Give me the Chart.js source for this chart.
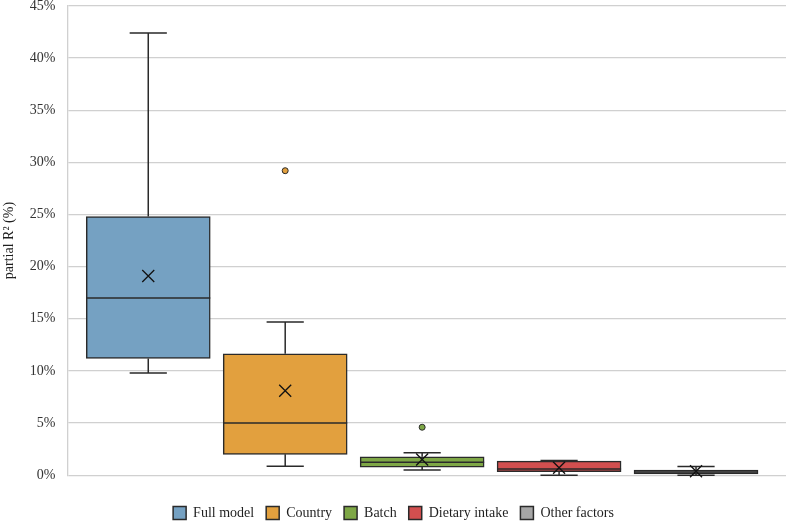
<!DOCTYPE html>
<html>
<head>
<meta charset="utf-8">
<script src="https://cdn.jsdelivr.net/npm/chart.js@4/dist/chart.umd.min.js"></script>
<style>
  html, body { margin: 0; padding: 0; background: #fff; }
  #wrap { width: 789px; height: 523px; }
</style>
</head>
<body>
<div id="wrap"><canvas id="chart" width="789" height="523"></canvas></div>
<script>
// series shown in the box plot (values in %)
const seriesNames = ["Full model", "Country", "Batch", "Dietary intake", "Other factors"];
const seriesColors = ["#75a1c2", "#e2a03e", "#7ea746", "#d24f4f", "#a6a6a6"];
const whiskerLow  = [9.8, 0.85, 0.5, 0.0, 0.0];
const quart1      = [11.2, 2.0, 0.78, 0.33, 0.12];
const medians     = [17.0, 5.0, 1.25, 0.6, 0.3];
const quart3      = [24.8, 11.65, 1.76, 1.35, 0.5];
const whiskerHigh = [42.4, 14.7, 2.15, 1.42, 0.83];
const means       = [19.1, 8.1, 1.5, 0.72, 0.38];
const outliers    = [[], [29.2], [4.6], [], []];
const yTicks = [0, 5, 10, 15, 20, 25, 30, 35, 40, 45];

const edge = "#2a2a2a";
const font = "'Liberation Serif', 'Times New Roman', serif";

// whiskers, medians, means and outliers drawn on top of the floating bars
const boxExtras = {
  id: "boxExtras",
  afterDatasetsDraw(chart) {
    const ctx = chart.ctx;
    const y = chart.scales.y;
    ctx.save();
    chart.data.datasets.forEach((ds, i) => {
      const bar = chart.getDatasetMeta(i).data[0];
      const x = bar.x, w = bar.width;
      const cap = w * 0.3;
      ctx.strokeStyle = edge;
      ctx.lineWidth = 1.5;
      ctx.beginPath();
      // upper whisker
      ctx.moveTo(x, y.getPixelForValue(quart3[i]));
      ctx.lineTo(x, y.getPixelForValue(whiskerHigh[i]));
      ctx.moveTo(x - cap / 2, y.getPixelForValue(whiskerHigh[i]));
      ctx.lineTo(x + cap / 2, y.getPixelForValue(whiskerHigh[i]));
      // lower whisker
      ctx.moveTo(x, y.getPixelForValue(quart1[i]));
      ctx.lineTo(x, y.getPixelForValue(whiskerLow[i]));
      ctx.moveTo(x - cap / 2, y.getPixelForValue(whiskerLow[i]));
      ctx.lineTo(x + cap / 2, y.getPixelForValue(whiskerLow[i]));
      // median
      ctx.moveTo(x - w / 2, y.getPixelForValue(medians[i]));
      ctx.lineTo(x + w / 2, y.getPixelForValue(medians[i]));
      ctx.stroke();
      // mean marker
      const my = y.getPixelForValue(means[i]);
      ctx.lineWidth = 1.3;
      ctx.strokeStyle = "#111";
      ctx.beginPath();
      ctx.moveTo(x - 6, my - 6); ctx.lineTo(x + 6, my + 6);
      ctx.moveTo(x + 6, my - 6); ctx.lineTo(x - 6, my + 6);
      ctx.stroke();
      // outliers
      outliers[i].forEach(v => {
        ctx.beginPath();
        ctx.arc(x, y.getPixelForValue(v), 3, 0, Math.PI * 2);
        ctx.fillStyle = seriesColors[i];
        ctx.fill();
        ctx.lineWidth = 1;
        ctx.strokeStyle = edge;
        ctx.stroke();
      });
    });
    ctx.restore();
  }
};

// one floating bar (Q1..Q3) per series, placed side by side on a linear x axis
const datasets = seriesNames.map((name, i) => ({
  label: name,
  data: [{ x: i + 1, y: [quart1[i], quart3[i]] }],
  backgroundColor: seriesColors[i],
  borderColor: edge,
  borderWidth: 1.5,
  borderSkipped: false,
  grouped: false,
  barThickness: 124
}));

new Chart(document.getElementById("chart"), {
  type: "bar",
  data: { datasets },
  plugins: [boxExtras],
  options: {
    responsive: false,
    animation: false,
    layout: { padding: { top: -2, right: 3, left: 1, bottom: -7 } },
    plugins: {
      tooltip: { enabled: false },
      legend: {
        position: "bottom",
        labels: {
          font: { family: font, size: 14 },
          color: "#1f1f1f",
          boxWidth: 13,
          boxHeight: 13,
          padding: 12
        }
      }
    },
    scales: {
      x: {
        type: "linear",
        offset: false,
        min: 0.41,
        max: 5.657,
        afterBuildTicks: axis => { axis.ticks = seriesNames.map((n, i) => ({ value: i + 1 })); },
        grid: { display: false, drawTicks: false },
        border: { display: false },
        ticks: { display: false },
        title: {
          display: true,
          text: " ",
          font: { family: font, size: 14 },
          padding: { top: 2, bottom: 0 }
        }
      },
      y: {
        min: 0,
        max: 45,
        afterBuildTicks: axis => { axis.ticks = yTicks.map(v => ({ value: v })); },
        ticks: {
          callback: v => v + "%",
          font: { family: font, size: 14, lineHeight: 0.85 },
          color: "#333",
          padding: 0
        },
        grid: { color: "#d0d0d0", lineWidth: 1.3, drawTicks: true, tickLength: 12, tickColor: "rgba(0,0,0,0)" },
        border: { color: "#d0d0d0", width: 1.3 },
        title: {
          display: true,
          text: "partial R² (%)",
          font: { family: font, size: 14 },
          color: "#1f1f1f",
          padding: { top: 0, bottom: 12 }
        }
      }
    }
  }
});
</script>
</body>
</html>
